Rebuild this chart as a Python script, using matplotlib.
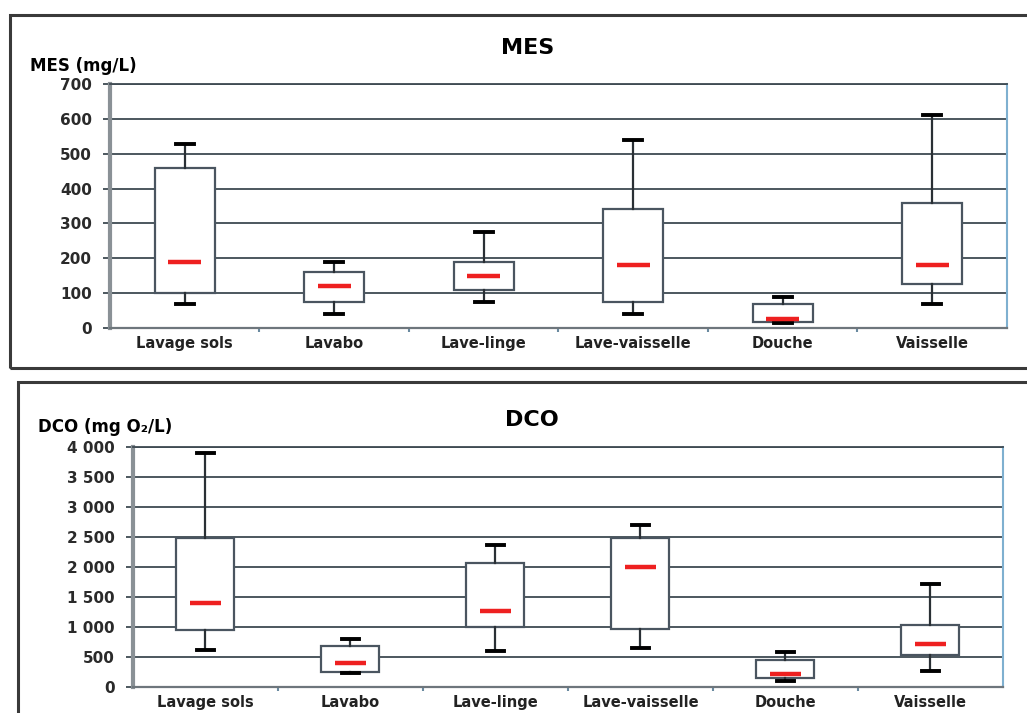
import matplotlib
matplotlib.use("Agg")
import matplotlib.pyplot as plt
from matplotlib.patches import Rectangle
from matplotlib.ticker import FuncFormatter, FixedLocator

plt.rcParams['font.family'] = ['DejaVu Sans']
plt.rcParams['font.weight'] = 'bold'

categories = ['Lavage sols', 'Lavabo', 'Lave-linge', 'Lave-vaisselle', 'Douche', 'Vaisselle']

# MES (mg/L): whisker low, Q1, median, Q3, whisker high
mes_low = [70, 40, 75, 40, 15, 70]
mes_q1 = [100, 75, 110, 75, 18, 125]
mes_med = [190, 120, 150, 180, 25, 180]
mes_q3 = [460, 160, 190, 340, 70, 360]
mes_high = [528, 190, 275, 540, 90, 610]

# DCO (mg O2/L)
dco_low = [620, 230, 600, 650, 100, 270]
dco_q1 = [950, 250, 1000, 970, 150, 530]
dco_med = [1400, 400, 1270, 2000, 220, 720]
dco_q3 = [2480, 680, 2060, 2490, 450, 1030]
dco_high = [3900, 800, 2370, 2700, 580, 1720]

fig = plt.figure(figsize=(10.27, 7.13), dpi=100)

# panel frames
fig.patches.append(Rectangle((0.0097, 0.4839), 1.05, 0.495, transform=fig.transFigure,
                             fill=False, edgecolor='#3a3a3a', linewidth=2.2))
fig.patches.append(Rectangle((0.0175, -0.05), 1.05, 0.5142, transform=fig.transFigure,
                             fill=False, edgecolor='#3a3a3a', linewidth=2.2))


def draw_panel(ax, low, q1, med, q3, high, ymax, step, fmt):
    stats = []
    for i, name in enumerate(categories):
        stats.append(dict(label=name, whislo=low[i], q1=q1[i], med=med[i],
                          q3=q3[i], whishi=high[i], fliers=[]))
    ax.bxp(stats, positions=range(len(categories)), widths=0.4, showfliers=False,
           patch_artist=True,
           boxprops=dict(facecolor='white', edgecolor='#4a5560', linewidth=1.6),
           whiskerprops=dict(color='#2a3035', linewidth=1.6),
           capprops=dict(color='black', linewidth=2.8),
           capwidths=0.12,
           medianprops=dict(color='#ee2020', linewidth=3.2, solid_capstyle='butt'))
    # shorten median lines
    for line in ax.lines:
        if line.get_color() == '#ee2020':
            xs = line.get_xdata()
            c = (xs[0] + xs[1]) / 2
            line.set_xdata([c - 0.11, c + 0.11])
    ax.set_xlim(-0.5, len(categories) - 0.5)
    ax.set_ylim(0, ymax)
    ax.yaxis.set_major_locator(FixedLocator(list(range(0, ymax + 1, step))))
    ax.yaxis.set_major_formatter(FuncFormatter(fmt))
    ax.grid(axis='y', color='#3e4a52', linewidth=1.3)
    ax.set_axisbelow(True)
    ax.set_xticks(range(len(categories)))
    ax.set_xticklabels(categories, fontsize=10.5, fontweight='bold', color='#222222')
    ax.set_xticks([i + 0.5 for i in range(len(categories) - 1)], minor=True)
    ax.tick_params(axis='x', which='major', length=0, pad=6)
    ax.tick_params(axis='x', which='minor', length=3, color='#6a8aa0', width=1.5)
    ax.tick_params(axis='y', length=5, color='#3e4a52', width=1.3, pad=8,
                   labelsize=11, labelcolor='#2a2a2a')
    for lab in ax.get_yticklabels():
        lab.set_fontweight('bold')
    ax.spines['left'].set_color('#8a9196')
    ax.spines['left'].set_linewidth(3)
    ax.spines['bottom'].set_color('#6e767c')
    ax.spines['bottom'].set_linewidth(1.6)
    ax.spines['top'].set_color('#3e4a52')
    ax.spines['top'].set_linewidth(1.3)
    ax.spines['right'].set_color('#7fb0d0')
    ax.spines['right'].set_linewidth(1.5)


def plain(v, pos):
    return f"{int(v)}"


def spaced(v, pos):
    return f"{int(v):,}".replace(',', ' ')


ax1 = fig.add_axes([0.1071, 0.5400, 0.8734, 0.3422])
draw_panel(ax1, mes_low, mes_q1, mes_med, mes_q3, mes_high, 700, 100, plain)

ax2 = fig.add_axes([0.1295, 0.0365, 0.8471, 0.3366])
draw_panel(ax2, dco_low, dco_q1, dco_med, dco_q3, dco_high, 4000, 500, spaced)

fig.text(528 / 1027, 1 - 48 / 713, 'MES', ha='center', va='center', fontsize=16, fontweight='bold')
fig.text(532 / 1027, 1 - 420 / 713, 'DCO', ha='center', va='center', fontsize=16, fontweight='bold')
fig.text(30 / 1027, 1 - 66 / 713, 'MES (mg/L)', ha='left', va='center', fontsize=12,
         fontweight='bold')
fig.text(38 / 1027, 1 - 427 / 713, 'DCO (mg O₂/L)', ha='left', va='center', fontsize=12,
         fontweight='bold')

fig.savefig('out.png', dpi=100)
